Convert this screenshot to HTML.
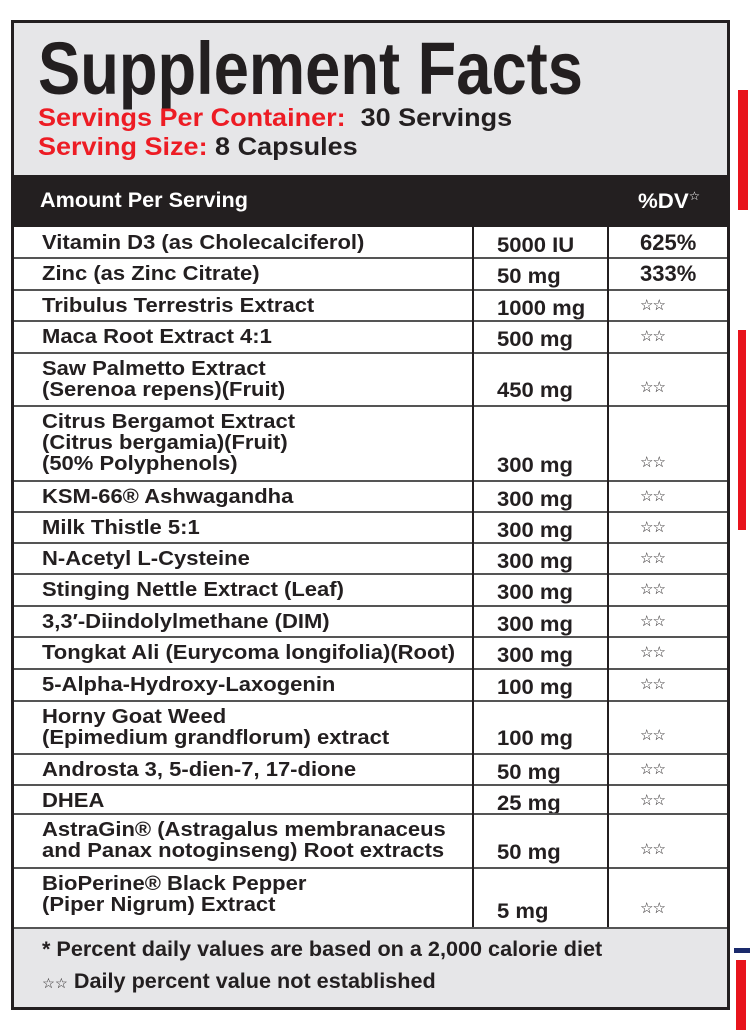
<!DOCTYPE html>
<html><head><meta charset="utf-8"><style>
body{margin:0;width:750px;height:1034px;background:#fff;position:relative;overflow:hidden;font-family:"Liberation Sans",sans-serif;font-weight:bold;color:#231f20}
.box{position:absolute;left:11px;top:20px;width:713px;height:984px;border:3px solid #231f20;background:#e6e6e8}
.a{position:absolute;white-space:nowrap}
.n{transform:scaleX(1.06);transform-origin:0 0}
.row{position:absolute;left:14px;width:713px;background:#fff}
.t{position:absolute;left:28px;font-size:20px;line-height:20px;transform:scaleX(1.1);transform-origin:0 0;white-space:nowrap}
.v{position:absolute;left:483px;font-size:21px;line-height:20px;transform:scaleX(1.05);transform-origin:0 0;white-space:nowrap}
.d{position:absolute;left:626px;font-size:22px;line-height:20px;white-space:nowrap}
.s{position:absolute;left:627px;font-size:15px;font-weight:normal;letter-spacing:-1px}
.vl{position:absolute;top:227px;height:700px;width:2px;background:#231f20}
</style></head><body>
<div class="box"></div>
<div class="a" style="left:38px;top:24px;font-size:74px;line-height:90px;transform:scaleX(.855);transform-origin:0 0">Supplement Facts</div>
<div class="a n" style="left:38px;top:104px;font-size:25px;line-height:28px;transform:scaleX(1.08)"><span style="color:#ed1c24">Servings Per Container:</span>&nbsp; 30 Servings</div>
<div class="a n" style="left:38px;top:133px;font-size:25px;line-height:28px;transform:scaleX(1.08)"><span style="color:#ed1c24">Serving Size:</span> 8 Capsules</div>
<div class="a" style="left:14px;top:175px;width:713px;height:52px;background:#231f20"></div>
<div class="a n" style="left:40px;top:189px;color:#fff;font-size:21px;transform:scaleX(1.03)">Amount Per Serving</div>
<div class="a n" style="left:638px;top:189px;color:#fff;font-size:21px">%DV<sup style="font-size:12px;font-weight:normal">☆</sup></div>
<div class="row" style="top:227px;height:700px"></div>
<div class="a" style="left:14px;top:927px;width:713px;height:2px;background:#555"></div>
<div class="a n" style="left:42px;top:938px;font-size:21px;transform:scaleX(1.03)">* Percent daily values are based on a 2,000 calorie diet</div>
<div class="a n" style="left:42px;top:970px;font-size:21px;transform:scaleX(1.03)"><span style="font-size:14px;font-weight:normal">☆☆</span> Daily percent value not established</div>

<div id="rows"></div>
<script>
var R=[[227,258,["Vitamin D3 (as Cholecalciferol)"],"5000 IU","625%"],
[258,290,["Zinc (as Zinc Citrate)"],"50 mg","333%"],
[290,321,["Tribulus Terrestris Extract"],"1000 mg"],
[321,353,["Maca Root Extract 4:1"],"500 mg"],
[353,406,["Saw Palmetto Extract","(Serenoa repens)(Fruit)"],"450 mg"],
[406,481,["Citrus Bergamot Extract","(Citrus bergamia)(Fruit)","(50% Polyphenols)"],"300 mg"],
[481,512,["KSM-66® Ashwagandha"],"300 mg"],
[512,543,["Milk Thistle 5:1"],"300 mg"],
[543,574,["N-Acetyl L-Cysteine"],"300 mg"],
[574,606,["Stinging Nettle Extract (Leaf)"],"300 mg"],
[606,637,["3,3′-Diindolylmethane (DIM)"],"300 mg"],
[637,669,["Tongkat Ali (Eurycoma longifolia)(Root)"],"300 mg"],
[669,701,["5-Alpha-Hydroxy-Laxogenin"],"100 mg"],
[701,754,["Horny Goat Weed","(Epimedium grandflorum) extract"],"100 mg"],
[754,785,["Androsta 3, 5-dien-7, 17-dione"],"50 mg"],
[785,814,["DHEA"],"25 mg"],
[814,868,["AstraGin® (Astragalus membranaceus","and Panax notoginseng) Root extracts"],"50 mg"],
[868,927,["BioPerine® Black Pepper","(Piper Nigrum) Extract"],"5 mg"]];
var h="";
R.forEach(function(r,i){
 if(i>0)h+='<div class="a" style="left:14px;top:'+(r[0]-1)+'px;width:713px;height:2px;background:#555"></div>';
 r[2].forEach(function(l,j){h+='<div class="t" style="left:42px;top:'+(r[0]+6+j*21)+'px">'+l+'</div>';});
 var vb=r[1]-25; if(r[1]-r[0]<40)vb=r[0]+9;
 h+='<div class="v" style="left:497px;top:'+vb+'px">'+r[3]+'</div>';
 if(r[4])h+='<div class="d" style="left:640px;top:'+(r[0]+6)+'px">'+r[4]+'</div>';
 else h+='<div class="s" style="left:640px;top:'+(vb-3)+'px">☆☆</div>';
});
h+='<div class="vl" style="left:472px"></div><div class="vl" style="left:607px"></div>';
document.getElementById("rows").innerHTML=h;
</script>
<div class="a" style="left:738px;top:90px;width:10px;height:120px;background:#e8141c"></div>
<div class="a" style="left:738px;top:330px;width:8px;height:200px;background:#e8141c"></div>
<div class="a" style="left:736px;top:960px;width:10px;height:70px;background:#e8141c"></div>
<div class="a" style="left:734px;top:948px;width:16px;height:5px;background:#1a2a6c"></div>
</body></html>
